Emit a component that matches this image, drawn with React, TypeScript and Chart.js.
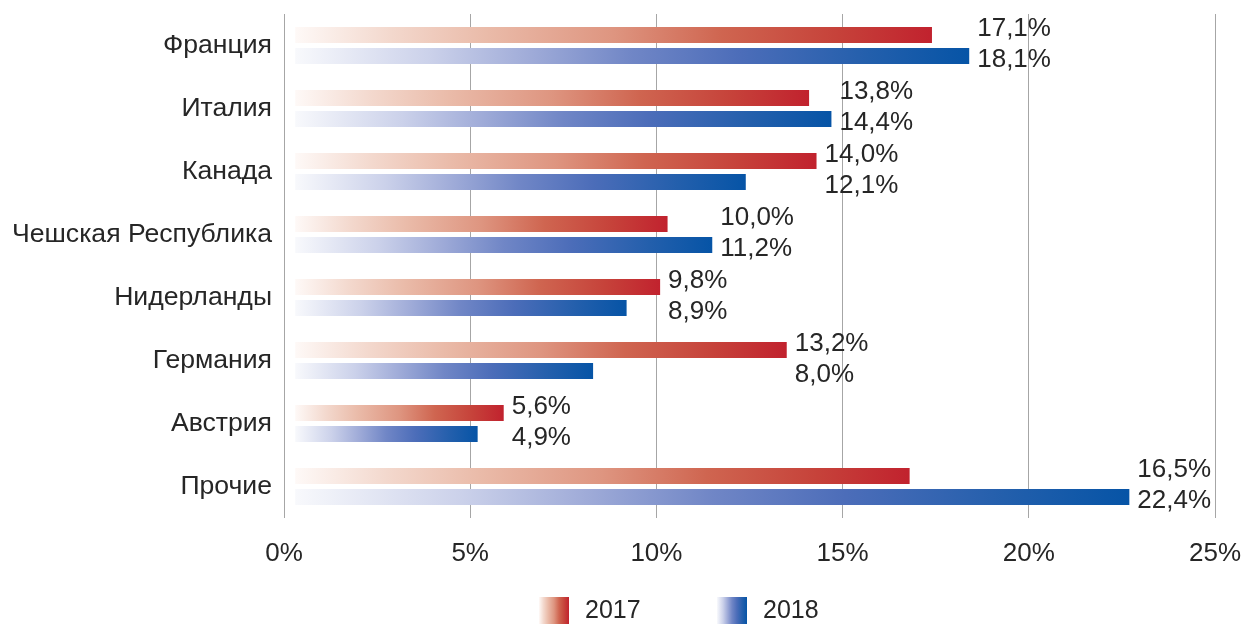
import React, { useEffect, useRef } from "react";
import { Chart, registerables } from "chart.js";

Chart.register(...registerables);

const categories = [
  "Франция",
  "Италия",
  "Канада",
  "Чешская Республика",
  "Нидерланды",
  "Германия",
  "Австрия",
  "Прочие",
];
const seriesNames = ["2017", "2018"];
const values2017 = [17.1, 13.8, 14.0, 10.0, 9.8, 13.2, 5.6, 16.5];
const values2018 = [18.1, 14.4, 12.1, 11.2, 8.9, 8.0, 4.9, 22.4];
const xTickValues = [0, 5, 10, 15, 20, 25];

// bars in the picture begin slightly right of the 0% line
const BAR_START = 0.3;

const FONT = "'Liberation Sans', Arial, sans-serif";
const TEXT = "#262626";

const redStops: [number, string][] = [
  [0, "#FEF9F7"],
  [0.15, "#F3D8CD"],
  [0.3, "#EABBA9"],
  [0.5, "#DE9580"],
  [0.67, "#CF6550"],
  [0.85, "#C6423A"],
  [1, "#C1222E"],
];
const blueStops: [number, string][] = [
  [0, "#F8F9FC"],
  [0.2, "#CBD1EA"],
  [0.35, "#9FABD8"],
  [0.5, "#7086C6"],
  [0.66, "#4C6DB9"],
  [0.85, "#235FAC"],
  [1, "#0654A6"],
];

const fmt = (v: number) => v.toFixed(1).replace(".", ",") + "%";

function makeGradient(c: CanvasRenderingContext2D, x0: number, x1: number, stops: [number, string][]) {
  const g = c.createLinearGradient(x0, 0, x1, 0);
  stops.forEach(([o, col]) => g.addColorStop(o, col));
  return g;
}

function barColor(stops: [number, string][]) {
  return (ctx: any) => {
    const chart = ctx.chart;
    if (!chart.chartArea || ctx.type !== "data" || !ctx.raw) return stops[stops.length - 1][1];
    const xs = chart.scales.x;
    const x0 = xs.getPixelForValue(ctx.raw[0]);
    const x1 = xs.getPixelForValue(ctx.raw[1]);
    return makeGradient(chart.ctx, x0, x1, stops);
  };
}

const zeroPadding = (s: any) => {
  s.paddingTop = 0;
  s.paddingBottom = 0;
  s.paddingLeft = 0;
  s.paddingRight = 0;
};

const labelsPlugin = {
  id: "pairLabels",
  afterDatasetsDraw(chart: any) {
    const c = chart.ctx as CanvasRenderingContext2D;
    const m0 = chart.getDatasetMeta(0);
    const m1 = chart.getDatasetMeta(1);
    c.save();
    c.font = `26px ${FONT}`;
    c.fillStyle = TEXT;
    c.textAlign = "left";
    c.textBaseline = "middle";
    categories.forEach((_, i) => {
      const e0 = m0.data[i];
      const e1 = m1.data[i];
      const x = Math.max(e0.x, e1.x) + 8;
      c.fillText(fmt(values2017[i]), x, e0.y - 6);
      c.fillText(fmt(values2018[i]), x, e1.y + 4);
    });
    c.restore();
  },
};

const legendPlugin = {
  id: "gradLegend",
  afterDraw(chart: any) {
    const c = chart.ctx as CanvasRenderingContext2D;
    const startX = 539;
    const step = 178;
    const boxW = 30;
    const boxTop = 597;
    const boxH = 30;
    const textY = 611;
    c.save();
    c.font = `25px ${FONT}`;
    c.textBaseline = "middle";
    c.textAlign = "left";
    seriesNames.forEach((name, i) => {
      const x = startX + i * step;
      c.fillStyle = makeGradient(c, x, x + boxW, i === 0 ? redStops : blueStops);
      c.fillRect(x, boxTop, boxW, boxH);
      c.fillStyle = TEXT;
      c.fillText(name, x + 46, textY);
    });
    c.restore();
  },
};

export default function App() {
  const ref = useRef<HTMLCanvasElement | null>(null);
  useEffect(() => {
    document.body.style.margin = "0";
    if (!ref.current) return;
    const chart = new Chart(ref.current, {
      type: "bar",
      data: {
        labels: categories,
        datasets: [
          {
            label: seriesNames[0],
            data: values2017.map((v) => [BAR_START, v + BAR_START]) as any,
            backgroundColor: barColor(redStops) as any,
            categoryPercentage: 0.667,
            barPercentage: 0.77,
            borderSkipped: false,
          },
          {
            label: seriesNames[1],
            data: values2018.map((v) => [BAR_START, v + BAR_START]) as any,
            backgroundColor: barColor(blueStops) as any,
            categoryPercentage: 0.667,
            barPercentage: 0.77,
            borderSkipped: false,
          },
        ],
      },
      options: {
        indexAxis: "y",
        animation: false,
        responsive: true,
        maintainAspectRatio: false,
        layout: { padding: { top: 14, right: 28, left: 0, bottom: 0 } },
        plugins: {
          legend: { display: false },
          tooltip: { enabled: false },
        },
        scales: {
          x: {
            min: xTickValues[0],
            max: xTickValues[xTickValues.length - 1],
            afterBuildTicks: (s: any) => {
              s.ticks = xTickValues.map((v) => ({ value: v }));
            },
            afterFit: (s: any) => {
              s.height = 106;
              zeroPadding(s);
            },
            grid: { color: "#A6A6A6", lineWidth: 1, drawTicks: false },
            border: { display: false },
            ticks: {
              padding: 20,
              color: TEXT,
              font: { family: FONT, size: 26 },
              callback: (v: any) => v + "%",
            },
          },
          y: {
            afterFit: (s: any) => {
              s.width = 284;
              zeroPadding(s);
            },
            grid: { display: false, drawTicks: false },
            border: { display: false },
            ticks: {
              padding: 12,
              color: TEXT,
              font: { family: FONT, size: 26.6 },
            },
          },
        },
      },
      plugins: [labelsPlugin, legendPlugin],
    });
    return () => chart.destroy();
  }, []);
  return (
    <div style={{ width: 1243, height: 624, position: "relative" }}>
      <canvas ref={ref} />
    </div>
  );
}
